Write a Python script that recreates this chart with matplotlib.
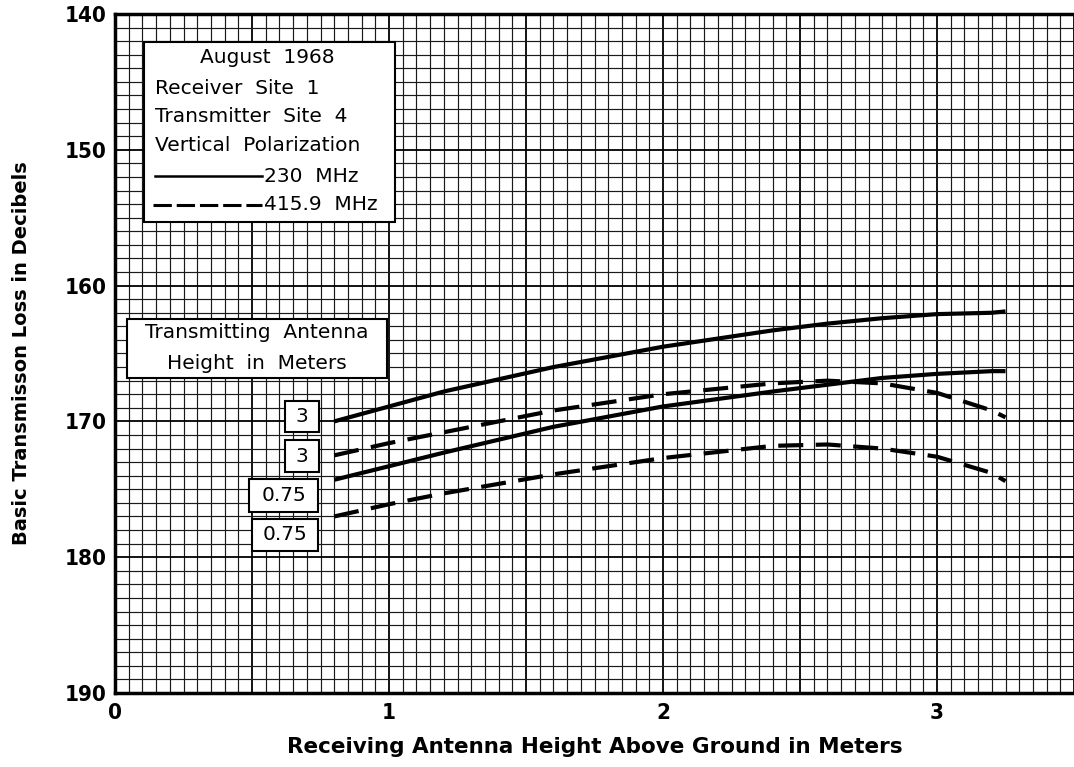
import numpy as np
import matplotlib
matplotlib.use("Agg")
import matplotlib.pyplot as plt
from matplotlib.patches import Rectangle
from matplotlib.ticker import MultipleLocator, FuncFormatter

# Receiving antenna height (m)
rx_height = [0.8, 1.0, 1.2, 1.6, 2.0, 2.4, 2.6, 2.8, 3.0, 3.2, 3.25]

# Basic transmission loss (dB)
loss_230_tx3 = [170.0, 168.9, 167.8, 166.0, 164.5, 163.3, 162.8, 162.4, 162.1, 162.0, 161.9]
loss_416_tx3 = [172.5, 171.6, 170.8, 169.2, 168.0, 167.2, 167.0, 167.2, 167.9, 169.2, 169.7]
loss_230_tx075 = [174.3, 173.3, 172.3, 170.4, 168.9, 167.8, 167.3, 166.8, 166.5, 166.3, 166.3]
loss_416_tx075 = [177.0, 176.1, 175.3, 173.9, 172.7, 171.8, 171.7, 172.0, 172.6, 173.8, 174.4]

legend_lines = ["August  1968", "Receiver  Site  1", "Transmitter  Site  4",
                "Vertical  Polarization"]
freq_labels = ["230  MHz", "415.9  MHz"]
tx_labels = ["3", "3", "0.75", "0.75"]

fig = plt.figure(figsize=(10.74, 7.67), dpi=100)
ax = fig.add_axes([115 / 1074, 74 / 767, (1074 - 115) / 1074, (753 - 74) / 767])

ax.set_xlim(0, 3.5)
ax.set_ylim(190, 140)

# graph paper grid
ax.xaxis.set_minor_locator(MultipleLocator(0.05))
ax.yaxis.set_minor_locator(MultipleLocator(1))
ax.xaxis.set_major_locator(MultipleLocator(0.5))
ax.yaxis.set_major_locator(MultipleLocator(10))
ax.grid(which="minor", color="#1a1a1a", lw=0.85)
ax.grid(which="major", color="black", lw=1.3)
ax.set_axisbelow(True)

ax.tick_params(which="both", length=0)
tick_font = dict(family="DejaVu Sans", weight="bold", stretch="condensed", size=16)
ax.xaxis.set_major_formatter(FuncFormatter(lambda v, p: "%d" % v if abs(v - round(v)) < 1e-6 else ""))
ax.yaxis.set_major_formatter(FuncFormatter(lambda v, p: "%d" % v))
for lab in ax.get_xticklabels() + ax.get_yticklabels():
    lab.set_fontproperties(tick_font)
ax.tick_params(axis="x", pad=7)
ax.tick_params(axis="y", pad=6)

for s in ["left", "bottom", "top"]:
    ax.spines[s].set_linewidth(2.5)
ax.spines["right"].set_visible(False)

# curves
ax.plot(rx_height, loss_230_tx3, color="black", lw=3, solid_capstyle="butt", zorder=3)
ax.plot(rx_height, loss_230_tx075, color="black", lw=3, solid_capstyle="butt", zorder=3)
ax.plot(rx_height, loss_416_tx3, color="black", lw=3, dashes=(6, 3), zorder=3)
ax.plot(rx_height, loss_416_tx075, color="black", lw=3, dashes=(6, 3), zorder=3)

txt = dict(family="DejaVu Sans", size=14.5, color="black", zorder=6)

# legend box
ax.add_patch(Rectangle((0.106, 142.06), 0.916, 13.24, facecolor="white",
                       edgecolor="black", lw=1.5, zorder=5))
ax.text(0.555, 143.24, legend_lines[0], ha="center", va="center", **txt)
for i, s in enumerate(legend_lines[1:]):
    ax.text(0.146, [145.45, 147.58, 149.72][i], s, ha="left", va="center", **txt)
ax.plot([0.146, 0.536], [151.93, 151.93], color="black", lw=1.8, zorder=6)
ax.plot([0.139, 0.536], [154.06, 154.06], color="black", lw=2.2, dashes=(6, 1.6), zorder=6)
ax.text(0.544, 151.93, freq_labels[0], ha="left", va="center", **txt)
ax.text(0.544, 154.06, freq_labels[1], ha="left", va="center", **txt)

# antenna height title box
ax.add_patch(Rectangle((0.044, 162.46), 0.949, 4.34, facecolor="white",
                       edgecolor="black", lw=1.5, zorder=5))
ax.text(0.518, 163.49, "Transmitting  Antenna", ha="center", va="center", **txt)
ax.text(0.518, 165.77, "Height  in  Meters", ha="center", va="center", **txt)

# curve labels
boxes = [(0.620, 168.50, 0.125, 2.28), (0.620, 171.37, 0.125, 2.36),
         (0.489, 174.24, 0.252, 2.43), (0.500, 177.19, 0.241, 2.35)]
for lab, (bx, by, bw, bh) in zip(tx_labels, boxes):
    ax.add_patch(Rectangle((bx, by), bw, bh, facecolor="white",
                           edgecolor="black", lw=1.5, zorder=5))
    ax.text(bx + bw / 2, by + bh / 2, lab, ha="center", va="center", **txt)

ax.set_xlabel("Receiving Antenna Height Above Ground in Meters", labelpad=10,
              family="DejaVu Sans", weight="bold", size=15.5)
ax.set_ylabel("Basic Transmisson Loss in Decibels",
              family="DejaVu Sans", weight="bold", size=14)
ax.yaxis.set_label_coords(-0.088, 0.5)

fig.savefig("out.png", dpi=100)
